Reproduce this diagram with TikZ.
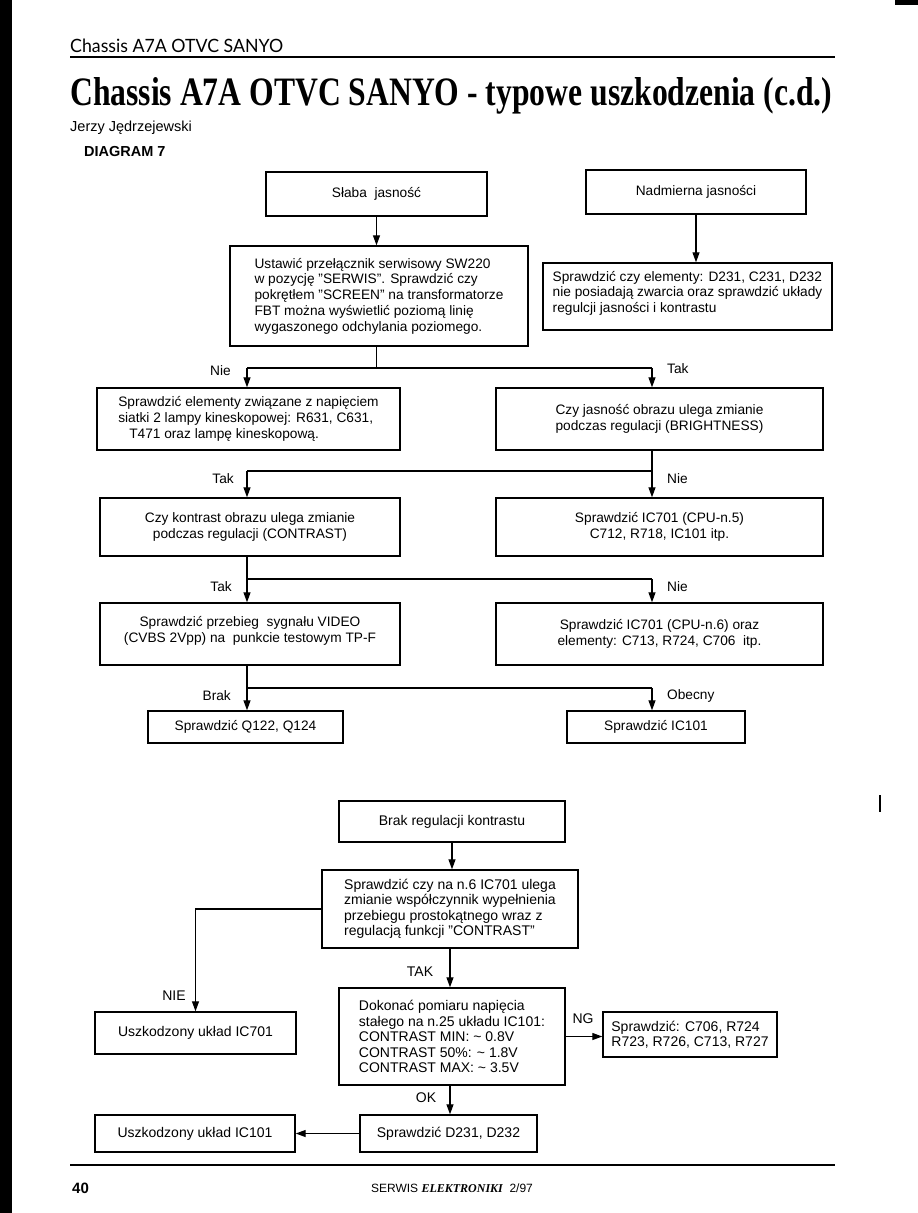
\documentclass[tikz,border=0pt]{standalone}
\usepackage{fontspec}
\setmainfont{Liberation Sans}
\newfontfamily\titlefont{Liberation Serif}
\newfontfamily\headfont{Lato}
\usetikzlibrary{arrows.meta}

\begin{document}
\begin{tikzpicture}[x=1pt, y=-1pt,
    box/.style={draw, line width=1.4pt, inner sep=0pt, align=center},
    boxl/.style={box, align=left},
    arr/.style={-{Triangle[width=7pt,length=10pt]}, line width=1.2pt},
    lbl/.style={inner sep=0pt},
    font=\fontsize{13.7}{15.7}\selectfont]
    \useasboundingbox (0,0) rectangle (918,1213);
    % scan edges
    \fill (0,0) rectangle (12,1213);
    \fill (895,0) rectangle (918,5);
    \fill (879,795) rectangle (880.5,812);

    % page head
    \node[lbl, anchor=base west] (head) at (70,52) {\resizebox{213pt}{13.5pt}{\headfont Chassis A7A OTVC SANYO}};
    \draw[line width=2pt] (70,57) -- (835,57);
    \node[lbl, anchor=base west] (title) at (70,105) {\resizebox{762pt}{28pt}{\titlefont\bfseries Chassis A7A OTVC SANYO - typowe uszkodzenia (c.d.)}};
    \node[lbl, anchor=west, font=\fontsize{14.5}{16}\selectfont] (author) at (70,128) {Jerzy Jędrzejewski};
    \node[lbl, anchor=west, font=\fontsize{14.5}{16}\selectfont\bfseries] (diag) at (84,152) {DIAGRAM 7};

    % upper diagram
    \node[box, minimum width=221pt, minimum height=44pt] (slaba) at (376.5,194) {Słaba \ jasność};
    \node[box, minimum width=220pt, minimum height=44pt] (nadm) at (696,192) {Nadmierna jasności};
    \node[boxl, minimum width=298pt, minimum height=100pt] (ustaw) at (379,296) {Ustawić przełącznik serwisowy SW220\\w pozycję "SERWIS". Sprawdzić czy\\pokrętłem "SCREEN" na transformatorze\\FBT można wyświetlić poziomą linię\\wygaszonego odchylania poziomego.};
    \node[boxl, minimum width=289pt, minimum height=67pt] (czyel) at (687.5,296.5) {Sprawdzić czy elementy: D231, C231, D232\\nie posiadają zwarcia oraz sprawdzić układy\\regulcji jasności i kontrastu\\[-6pt]};
    \node[boxl, minimum width=303pt, minimum height=62pt] (elem) at (248.5,419) {Sprawdzić elementy związane z napięciem\\siatki 2 lampy kineskopowej: R631, C631,\\\hspace*{11pt}T471 oraz lampę kineskopową.};
    \node[box, minimum width=327pt, minimum height=62pt] (jasn) at (659.5,419) {Czy jasność obrazu ulega zmianie\\podczas regulacji (BRIGHTNESS)};
    \node[box, minimum width=300pt, minimum height=58pt] (kontr) at (250,527) {Czy kontrast obrazu ulega zmianie\\podczas regulacji (CONTRAST)};
    \node[box, minimum width=327pt, minimum height=58pt] (icpiec) at (659.5,527) {Sprawdzić IC701 (CPU-n.5)\\C712, R718, IC101 itp.};
    \node[box, minimum width=300pt, minimum height=62pt] (przeb) at (250,634) {Sprawdzić przebieg \ sygnału VIDEO\\(CVBS 2Vpp) na \ punkcie testowym TP-F\\[-6pt]};
    \node[box, minimum width=327pt, minimum height=62pt] (icszesc) at (659.5,634) {Sprawdzić IC701 (CPU-n.6) oraz\\elementy: C713, R724, C706 \ itp.};
    \node[box, minimum width=195pt, minimum height=32pt] (qbox) at (245.5,727) {Sprawdzić Q122, Q124};
    \node[box, minimum width=178pt, minimum height=32pt] (icsto) at (656,727) {Sprawdzić IC101};

    \coordinate (j1l) at (247,368);
    \coordinate (j1r) at (652,368);
    \coordinate (j2l) at (247,471);
    \coordinate (j2r) at (652,471);
    \coordinate (j3l) at (247,579);
    \coordinate (j3r) at (652,579);
    \coordinate (j4l) at (247,688);
    \coordinate (j4r) at (652,688);

    \draw[arr] (slaba.south) -- (slaba.south |- ustaw.north);
    \draw[arr] (nadm.south) -- (nadm.south |- czyel.north);
    \draw[line width=1.2pt] (ustaw.south -| slaba.south) -- (slaba.south |- j1l);
    \draw[line width=1.2pt] (j1l) -- (j1r);
    \draw[arr] (j1l) -- (j1l |- elem.north);
    \draw[arr] (j1r) -- (j1r |- jasn.north);
    \draw[line width=1.2pt] (j1r |- jasn.south) -- (j2r) -- (j2l);
    \draw[arr] (j2l) -- (j2l |- kontr.north);
    \draw[arr] (j2r) -- (j2r |- icpiec.north);
    \draw[line width=1.2pt] (j3l |- kontr.south) -- (j3l) -- (j3r);
    \draw[arr] (j3l) -- (j3l |- przeb.north);
    \draw[arr] (j3r) -- (j3r |- icszesc.north);
    \draw[line width=1.2pt] (j4l |- przeb.south) -- (j4l) -- (j4r);
    \draw[arr] (j4l) -- (j4l |- qbox.north);
    \draw[arr] (j4r) -- (j4r |- icsto.north);

    \node[lbl, anchor=east] (nie1) at (231,371) {Nie};
    \node[lbl, anchor=west] (tak1) at (667,369) {Tak};
    \node[lbl, anchor=east] (tak2) at (234,479) {Tak};
    \node[lbl, anchor=west] (nie2) at (667,479) {Nie};
    \node[lbl, anchor=east] (tak3) at (232,587) {Tak};
    \node[lbl, anchor=west] (nie3) at (667,587) {Nie};
    \node[lbl, anchor=east] (brak) at (231,696) {Brak};
    \node[lbl, anchor=west] (obecny) at (667,696) {Obecny};

    % lower diagram
    \begin{scope}[font=\fontsize{14}{15.5}\selectfont]
    \node[box, minimum width=226pt, minimum height=41pt] (brakreg) at (452,821.5) {Brak regulacji kontrastu};
    \node[boxl, minimum width=256pt, minimum height=78pt] (sprczy) at (450,909) {Sprawdzić czy na n.6 IC701 ulega\\zmianie współczynnik wypełnienia\\przebiegu prostokątnego wraz z\\regulacją funkcji "CONTRAST"};
    \node[box, minimum width=201pt, minimum height=42pt] (uszksiedem) at (195.5,1033) {Uszkodzony układ IC701};
    \node[boxl, minimum width=226pt, minimum height=97pt] (dokon) at (452,1036.5) {Dokonać pomiaru napięcia\\stałego na n.25 układu IC101:\\CONTRAST MIN: \textasciitilde{} 0.8V\\CONTRAST 50\%: \textasciitilde{} 1.8V\\CONTRAST MAX: \textasciitilde{} 3.5V};
    \node[boxl, minimum width=174pt, minimum height=45pt] (elsiedem) at (690,1034.5) {Sprawdzić: C706, R724\\R723, R726, C713, R727};
    \node[box, minimum width=177pt, minimum height=37pt] (diody) at (448.5,1133.5) {Sprawdzić D231, D232};
    \node[box, minimum width=200pt, minimum height=37pt] (uszksto) at (195,1133.5) {Uszkodzony układ IC101};

    \draw[arr] (brakreg.south) -- (brakreg.south |- sprczy.north);
    \draw[arr] (sprczy.west) -| (uszksiedem.north);
    \draw[arr] (sprczy.south) -- (sprczy.south |- dokon.north);
    \draw[arr] (dokon.east) -- (dokon.east -| elsiedem.west);
    \draw[arr] (dokon.south -| sprczy.south) -- (sprczy.south |- diody.north);
    \draw[arr] (diody.west) -- (uszksto.east);

    \node[lbl] (nie4) at (174,996) {NIE};
    \node[lbl] (tak4) at (420,972) {TAK};
    \node[lbl] (ng) at (583,1019) {NG};
    \node[lbl] (ok) at (426,1098) {OK};
    \end{scope}

    % page foot
    \draw[line width=2.5pt] (70,1165) -- (835,1165);
    \node[lbl, anchor=west, font=\fontsize{15}{16}\selectfont\bfseries] (page) at (72,1188) {40};
    \node[lbl, font=\fontsize{12}{14}\selectfont] (journal) at (452,1188) {SERWIS {\titlefont\bfseries\itshape ELEKTRONIKI} \ 2/97};
\end{tikzpicture}
\end{document}
